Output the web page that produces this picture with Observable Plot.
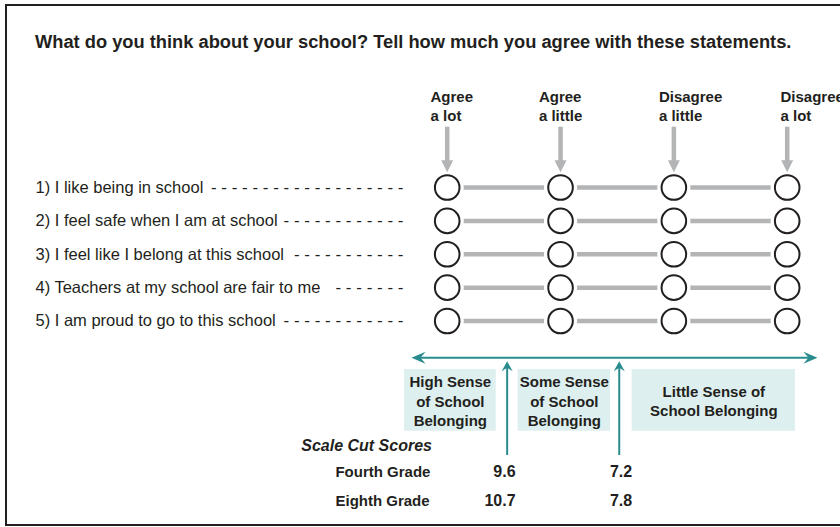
<!DOCTYPE html>
<html><head><meta charset="utf-8">
<script src="https://cdn.jsdelivr.net/npm/d3@7"></script>
<script src="https://cdn.jsdelivr.net/npm/@observablehq/plot@0.6"></script>
<style>
html,body{margin:0;padding:0;background:#fff;overflow:hidden;}
#wrap{position:relative;width:840px;height:527px;overflow:hidden;}
#box{position:absolute;left:5px;top:4px;width:900px;height:518px;border:2px solid #231f20;border-right:none;}
#title{position:absolute;left:35px;top:33px;font:bold 18.3px/18px "Liberation Sans",Arial,sans-serif;color:#231f20;white-space:nowrap;}
#chart{position:absolute;left:0;top:60px;}
</style></head><body>
<div id="wrap"><div id="box"></div><div id="title"></div><div id="chart"></div></div>
<script>
// ---- data ----
const titleText = "What do you think about your school? Tell how much you agree with these statements.";
const statements = [
  "1) I like being in school",
  "2) I feel safe when I am at school",
  "3) I feel like I belong at this school",
  "4) Teachers at my school are fair to me",
  "5) I am proud to go to this school"
];
const leaderDashes = [19, 12, 11, 7, 12];
const responses = ["Agree\na lot", "Agree\na little", "Disagree\na little", "Disagree\na lot"];
const levels = ["High Sense\nof School\nBelonging", "Some Sense\nof School\nBelonging", "Little Sense of\nSchool Belonging"];
const cutLabel = "Scale Cut Scores";
const grades = ["Fourth Grade", "Eighth Grade"];
const cutHighSome = [9.6, 10.7];
const cutSomeLittle = [7.2, 7.8];

// ---- layout (x in response-column units, y in statement-row units) ----
const L = {
  labelX: -3.633, leaderEndX: -0.386,
  headShift: [-0.147, -0.191, -0.132, -0.059], headY: -0.987,
  headArrowTop: -0.807, headArrowBase: 0.221, headArrowTip: 0.542,
  scaleY: 6.103, scaleX1: -0.315, scaleX2: 3.267,
  bandY1: 6.453, bandY2: 8.302,
  bandX: [[-0.377, 0.432], [0.626, 1.441], [1.632, 3.073]],
  cutX: [0.529, 1.518], cutBottom: 9.03, cutTip: 6.204,
  cutLabelX: -1.288, cutLabelY: 8.901,
  gradeX: -0.986, gradeY: [9.68, 10.558], valueX: [0.603, 1.632]
};
const ink = "#231f20", gray = "#b3b4b6", teal = "#2a8c8e", boxFill = "#ddefee";
const font = "'Liberation Sans', Arial, Helvetica, sans-serif";

document.getElementById("title").textContent = titleText;

const rows = statements.map((s, i) => ({row: i + 1, text: s, leader: Array(leaderDashes[i]).fill("-").join(" ")}));
const cells = rows.flatMap(r => responses.map((_, j) => ({row: r.row, col: j})));
const links = rows.flatMap(r => d3.range(responses.length - 1).map(j => ({row: r.row, c1: j, c2: j + 1})));
const heads = responses.map((t, j) => ({col: j, text: t}));
const bands = levels.map((t, i) => ({text: t, x1: L.bandX[i][0], x2: L.bandX[i][1]}));
const cuts = L.cutX.map(x => ({x}));
const scoreRows = grades.map((g, i) => ({grade: g, y: L.gradeY[i], v1: cutHighSome[i], v2: cutSomeLittle[i]}));
const fmt = d3.format(".1f");

const triDown = {draw(ctx) { ctx.moveTo(0, 0); ctx.lineTo(-6, -12); ctx.lineTo(6, -12); ctx.closePath(); }};
const headBig = {draw(ctx) { ctx.moveTo(0, 0); ctx.lineTo(-6, 14); ctx.lineTo(0, 9); ctx.lineTo(6, 14); ctx.closePath(); }};
const headSmall = {draw(ctx) { ctx.moveTo(0, 0); ctx.lineTo(-5.5, 10); ctx.lineTo(0, 6.5); ctx.lineTo(5.5, 10); ctx.closePath(); }};

const chart = Plot.plot({
  width: 840, height: 467, margin: 0,
  x: {domain: [0, 3], range: [446.7, 786.7], axis: null},
  y: {domain: [1, 5], range: [127, 260.5], axis: null},
  style: {fontFamily: font, color: ink, background: "transparent", overflow: "visible"},
  marks: [
    Plot.link(links, {x1: "c1", x2: "c2", y1: "row", y2: "row", stroke: gray, strokeWidth: 4.5}),
    Plot.dot(cells, {x: "col", y: "row", r: 16.6, fill: "white"}),
    Plot.dot(cells, {x: "col", y: "row", r: 12.3, fill: "white", stroke: ink, strokeWidth: 2}),
    Plot.ruleX(heads, {x: "col", y1: L.headArrowTop, y2: L.headArrowBase, stroke: gray, strokeWidth: 4.5}),
    Plot.dot(heads, {x: "col", y: L.headArrowTip, symbol: triDown, fill: gray}),
    Plot.text(heads, {x: d => d.col + L.headShift[d.col], y: L.headY, text: "text", textAnchor: "start", lineAnchor: "bottom", lineHeight: 1.27, fontSize: 15, fontWeight: "bold", fill: ink}),
    Plot.text(rows, {x: L.labelX, y: "row", text: "text", textAnchor: "start", fontSize: 16.5, fill: ink}),
    Plot.text(rows, {x: L.leaderEndX, y: "row", text: "leader", textAnchor: "end", fontSize: 17, fill: ink}),
    Plot.ruleY([L.scaleY], {x1: L.scaleX1 + 0.05, x2: L.scaleX2 - 0.05, stroke: teal, strokeWidth: 2}),
    Plot.dot([{x: L.scaleX1, a: -90}, {x: L.scaleX2, a: 90}], {x: "x", y: L.scaleY, rotate: "a", symbol: headBig, fill: teal}),
    Plot.rect(bands, {x1: "x1", x2: "x2", y1: L.bandY1, y2: L.bandY2, fill: boxFill}),
    Plot.text(bands, {x: d => (d.x1 + d.x2) / 2, y: (L.bandY1 + L.bandY2) / 2, text: "text", fontSize: 15, fontWeight: "bold", lineHeight: 1.29, fill: ink}),
    Plot.ruleX(cuts, {x: "x", y1: L.cutBottom, y2: L.cutTip + 0.15, stroke: teal, strokeWidth: 2}),
    Plot.dot(cuts, {x: "x", y: L.cutTip, symbol: headSmall, fill: teal}),
    Plot.text([cutLabel], {x: L.cutLabelX, y: L.cutLabelY, text: d => d, textAnchor: "start", lineAnchor: "bottom", fontSize: 16, fontWeight: "bold", fontStyle: "italic", fill: ink}),
    Plot.text(scoreRows, {x: L.gradeX, y: "y", text: "grade", textAnchor: "start", lineAnchor: "bottom", fontSize: 15, fontWeight: "bold", fill: ink}),
    Plot.text(scoreRows, {x: L.valueX[0], y: "y", text: d => fmt(d.v1), textAnchor: "end", lineAnchor: "bottom", fontSize: 16, fontWeight: "bold", fill: ink}),
    Plot.text(scoreRows, {x: L.valueX[1], y: "y", text: d => fmt(d.v2), textAnchor: "end", lineAnchor: "bottom", fontSize: 16, fontWeight: "bold", fill: ink})
  ]
});
document.getElementById("chart").appendChild(chart);
</script>
</body></html>
